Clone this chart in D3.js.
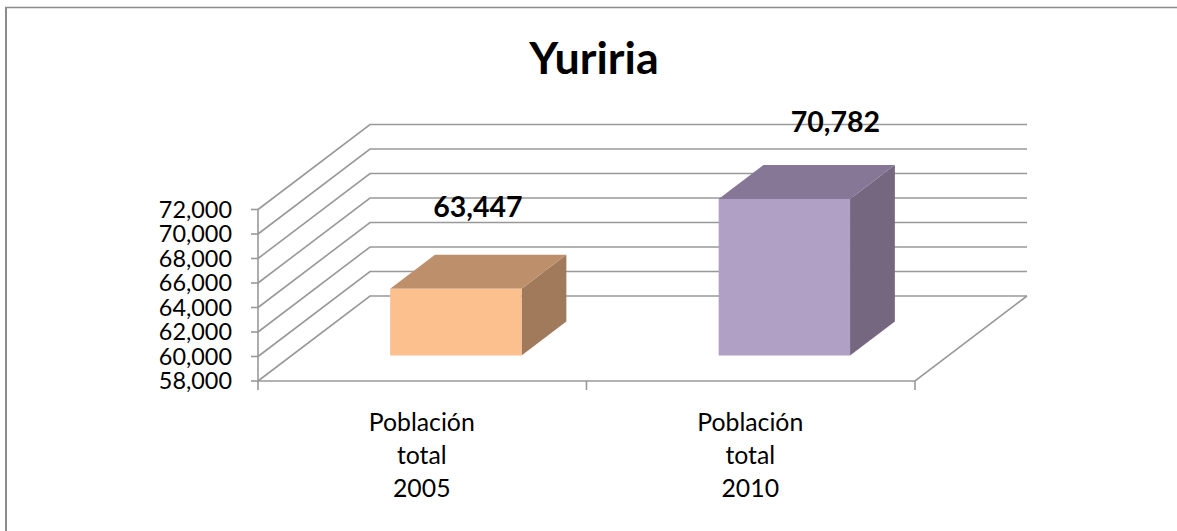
<!DOCTYPE html>
<html>
<head>
<meta charset="utf-8">
<script src="https://cdnjs.cloudflare.com/ajax/libs/d3/7.8.5/d3.min.js"></script>
<style>
  html, body { margin: 0; padding: 0; background: #fff; }
  svg { display: block; }
  text { font-family: Lato, "Open Sans", sans-serif; fill: #000; }
</style>
</head>
<body>
<div id="chart"></div>
<script>
// valeurs
var title = "Yuriria";
var categories = ["Población total 2005", "Población total 2010"];
var values = [63447, 70782];
var tickValues = [58000, 60000, 62000, 64000, 66000, 68000, 70000, 72000];

var frontColors = ["#fcc08f", "#b1a0c6"];
var topColors = ["#bd906b", "#857795"];
var sideColors = ["#a07a5b", "#75677f"];

var width = 1177, height = 531;

var svg = d3.select("#chart").append("svg")
    .attr("width", width)
    .attr("height", height);

// cadre
svg.append("line")
    .attr("x1", 6).attr("x2", 6).attr("y1", 7).attr("y2", height)
    .attr("stroke", "#8c8c8c")
    .attr("stroke-width", 2);
svg.append("line")
    .attr("x1", 5).attr("x2", width).attr("y1", 7.5).attr("y2", 7.5)
    .attr("stroke", "#8c8c8c")
    .attr("stroke-width", 1.5);

var x = d3.scaleBand().domain(categories).range([258, 915]).paddingInner(0);
var y = d3.scaleLinear().domain([58000, 72000]).range([381, 209.5]);

// projection de la profondeur : 0 = devant, 1 = mur du fond
var depthX = 112, depthY = -85;
function project(px, py, d) {
    return [px + d * depthX, py + d * depthY];
}
var line = d3.line();

var grid = svg.append("g")
    .attr("fill", "none")
    .attr("stroke", "#999999")
    .attr("stroke-width", 1.6);

// grille : diagonale sur le côté + horizontale sur le mur du fond
tickValues.forEach(function(t) {
    grid.append("path").attr("d", line([
        project(x.range()[0], y(t), 0),
        project(x.range()[0], y(t), 1),
        project(x.range()[1], y(t), 1)
    ]));
    // petit tiret de l'axe
    grid.append("path").attr("d", line([[x.range()[0] - 7, y(t)], [x.range()[0], y(t)]]));
});

// axe vertical, sol et tirets du bas
grid.append("path").attr("d", line([[x.range()[0], y(72000)], [x.range()[0], y(58000) + 9]]));
grid.append("path").attr("d", line([
    [x.range()[0], y(58000)],
    [x.range()[1], y(58000)],
    project(x.range()[1], y(58000), 1)
]));
categories.forEach(function(c) {
    var px = x(c) + x.bandwidth();
    grid.append("path").attr("d", line([[px, y(58000)], [px, y(58000) + 9]]));
});

// étiquettes de l'axe vertical
svg.append("g").selectAll("text")
    .data(tickValues)
    .enter()
    .append("text")
    .attr("x", 232)
    .attr("y", function(d) { return y(d); })
    .attr("dy", "0.36em")
    .attr("text-anchor", "end")
    .style("font-size", "23.4px")
    .text(d3.format(","));

// barres 3D
var barWidth = x.bandwidth() * 0.4;
var d0 = 0.3, d1 = 0.7;

// décalage des étiquettes par rapport au milieu du haut de la face avant
var labelDx = [22, 51], labelDy = [-72, -67];

var bars = svg.selectAll(".bar")
    .data(values)
    .enter()
    .append("g")
    .attr("class", "bar");

bars.each(function(v, i) {
    var g = d3.select(this);
    var cx = x(categories[i]) + x.bandwidth() / 2;
    var l = cx - barWidth / 2, r = cx + barWidth / 2;
    var b = y(58000), t = y(v);

    g.append("path")
        .attr("fill", sideColors[i])
        .attr("d", line([project(r, b, d0), project(r, t, d0), project(r, t, d1), project(r, b, d1)]) + "Z");
    g.append("path")
        .attr("fill", topColors[i])
        .attr("d", line([project(l, t, d0), project(r, t, d0), project(r, t, d1), project(l, t, d1)]) + "Z");
    g.append("path")
        .attr("fill", frontColors[i])
        .attr("d", line([project(l, b, d0), project(r, b, d0), project(r, t, d0), project(l, t, d0)]) + "Z");

    // étiquette de valeur
    var lab = project(cx, t, d0);
    g.append("text")
        .attr("x", lab[0] + labelDx[i])
        .attr("y", lab[1] + labelDy[i])
        .attr("text-anchor", "middle")
        .style("font-size", "28.5px")
        .style("font-weight", "700")
        .text(d3.format(",")(v));
});

// étiquettes des catégories, sur trois lignes
categories.forEach(function(c) {
    var words = c.split(" ");
    var txt = svg.append("text")
        .attr("text-anchor", "middle")
        .style("font-size", "24.8px");
    words.forEach(function(w, k) {
        txt.append("tspan")
            .attr("x", x(c) + x.bandwidth() / 2 - 0.5)
            .attr("y", 431 + k * 33)
            .text(w);
    });
});

// titre
svg.append("text")
    .attr("x", 594)
    .attr("y", 74)
    .attr("text-anchor", "middle")
    .style("font-size", "44.8px")
    .style("font-weight", "700")
    .text(title);
</script>
</body>
</html>
